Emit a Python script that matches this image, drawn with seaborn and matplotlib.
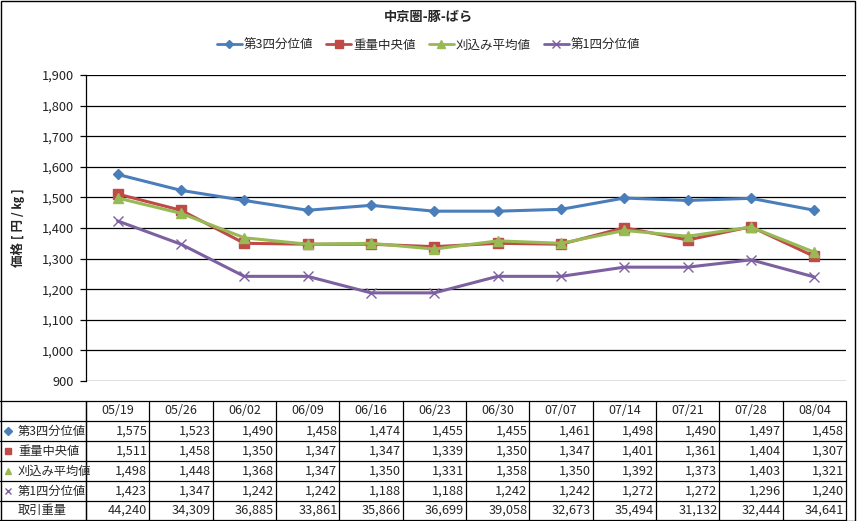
import matplotlib
matplotlib.use("Agg")
import matplotlib.pyplot as plt
import matplotlib.transforms as mtransforms
from matplotlib.lines import Line2D
from matplotlib.patches import Rectangle
from matplotlib.ticker import FuncFormatter, MultipleLocator
import seaborn as sns
import pandas as pd

dates = ["05/19", "05/26", "06/02", "06/09", "06/16", "06/23",
         "06/30", "07/07", "07/14", "07/21", "07/28", "08/04"]
q3 = [1575, 1523, 1490, 1458, 1474, 1455, 1455, 1461, 1498, 1490, 1497, 1458]
median = [1511, 1458, 1350, 1347, 1347, 1339, 1350, 1347, 1401, 1361, 1404, 1307]
trimmed_mean = [1498, 1448, 1368, 1347, 1350, 1331, 1358, 1350, 1392, 1373, 1403, 1321]
q1 = [1423, 1347, 1242, 1242, 1188, 1188, 1242, 1242, 1272, 1272, 1296, 1240]
volume = [44240, 34309, 36885, 33861, 35866, 36699, 39058, 32673, 35494, 31132, 32444, 34641]

series_names = ["第3四分位値", "重量中央値", "刈込み平均値", "第1四分位値"]
series_values = [q3, median, trimmed_mean, q1]
colors = ["#4A7EBB", "#BE4B48", "#98B954", "#7D60A0"]
markers = ["D", "s", "^", "x"]
msizes = [5.5, 7, 7.5, 7]
volume_label = "取引重量"
title = "中京圏-豚-ばら"
ylabel = "価格 [ 円 / ㎏ ]"

sns.set_theme(style="white")
plt.rcParams["font.family"] = ["Noto Sans CJK JP", "DejaVu Sans"]

W, H = 857, 521
fig = plt.figure(figsize=(W / 100, H / 100), dpi=100)
ax = fig.add_axes([86 / W, 1 - 381 / H, (846 - 86) / W, (381 - 75) / H])

pos = list(range(len(dates)))
handles = []
for name, vals, c, m, ms in zip(series_names, series_values, colors, markers, msizes):
    df = pd.DataFrame({"pos": pos, "value": vals})
    sns.lineplot(data=df, x="pos", y="value", ax=ax, color=c, marker=m,
                 markersize=ms, linewidth=2.2, markeredgecolor=c,
                 markeredgewidth=1.0)
    handles.append(Line2D([0], [0], color=c, marker=m, markersize=ms - 1.5,
                          linewidth=2, markeredgecolor=c))

ax.set_xlim(-0.5, len(dates) - 0.5)
ax.set_ylim(900, 1900)
ax.yaxis.set_major_locator(MultipleLocator(100))
ax.yaxis.set_major_formatter(FuncFormatter(lambda v, p: f"{int(v):,}"))
ax.grid(axis="y", color="black", linewidth=0.9)
ax.set_axisbelow(True)
ax.set_xticks([])
ax.set_xlabel("")
ax.set_ylabel(ylabel, fontsize=9, fontweight="bold", labelpad=12)
ax.tick_params(axis="y", labelsize=9.2, length=4, width=0.9, color="black",
               left=True, pad=5, labelcolor="#222222")
for s in ["top", "right", "bottom"]:
    ax.spines[s].set_visible(False)
ax.spines["left"].set_color("black")
ax.spines["left"].set_linewidth(0.9)

fig.text(0.5, 1 - 17 / H, title, ha="center", va="center", fontsize=9.5,
         fontweight="bold")
fig.legend(handles, series_names, loc="center", bbox_to_anchor=(0.5, 1 - 45 / H),
           ncol=4, frameon=False, fontsize=9, handlelength=2.0,
           columnspacing=1.0, handletextpad=0.2)

# Data table below
bt = mtransforms.blended_transform_factory(ax.transData, fig.transFigure)
ft = fig.transFigure
row_edges = [401, 421, 441, 461, 481, 501, 520]
x_left = 0
x_right_px = 846
for y in row_edges:
    fig.add_artist(Line2D([x_left / W, x_right_px / W], [1 - y / H, 1 - y / H],
                          transform=ft, color="black", linewidth=0.9))
top_y = 1 - row_edges[0] / H
bot_y = 1 - row_edges[-1] / H
fig.add_artist(Line2D([86 / W, 86 / W], [top_y, bot_y], transform=ft,
                      color="black", linewidth=0.9))
for i in range(len(dates) + 1):
    fig.add_artist(Line2D([i - 0.5, i - 0.5], [top_y, bot_y], transform=bt,
                          color="black", linewidth=0.9))

def row_center(r):
    return 1 - (row_edges[r] + row_edges[r + 1]) / 2 / H

for i, d in enumerate(dates):
    fig.text(i, row_center(0), d, transform=bt, ha="center", va="center",
             fontsize=9)

rows = series_values + [volume]
labels = series_names + [volume_label]
for r, (lab, vals) in enumerate(zip(labels, rows), start=1):
    yc = row_center(r)
    fig.text(18 / W, yc, lab, transform=ft, ha="left", va="center", fontsize=8.8)
    if r <= len(series_names):
        k = r - 1
        fig.add_artist(Line2D([8 / W], [yc], transform=ft, marker=markers[k],
                              markersize=4.5, color=colors[k], linestyle="none",
                              markeredgecolor=colors[k]))
    for i, v in enumerate(vals):
        fig.text(i + 0.47, yc, f"{v:,}", transform=bt, ha="right", va="center",
                 fontsize=9.2)

fig.add_artist(Rectangle((0.5 / W, 0.5 / H), (W - 3) / W, (H - 1.5) / H,
                         transform=ft, fill=False, edgecolor="black",
                         linewidth=1.0))

fig.savefig("out.png", dpi=100)
